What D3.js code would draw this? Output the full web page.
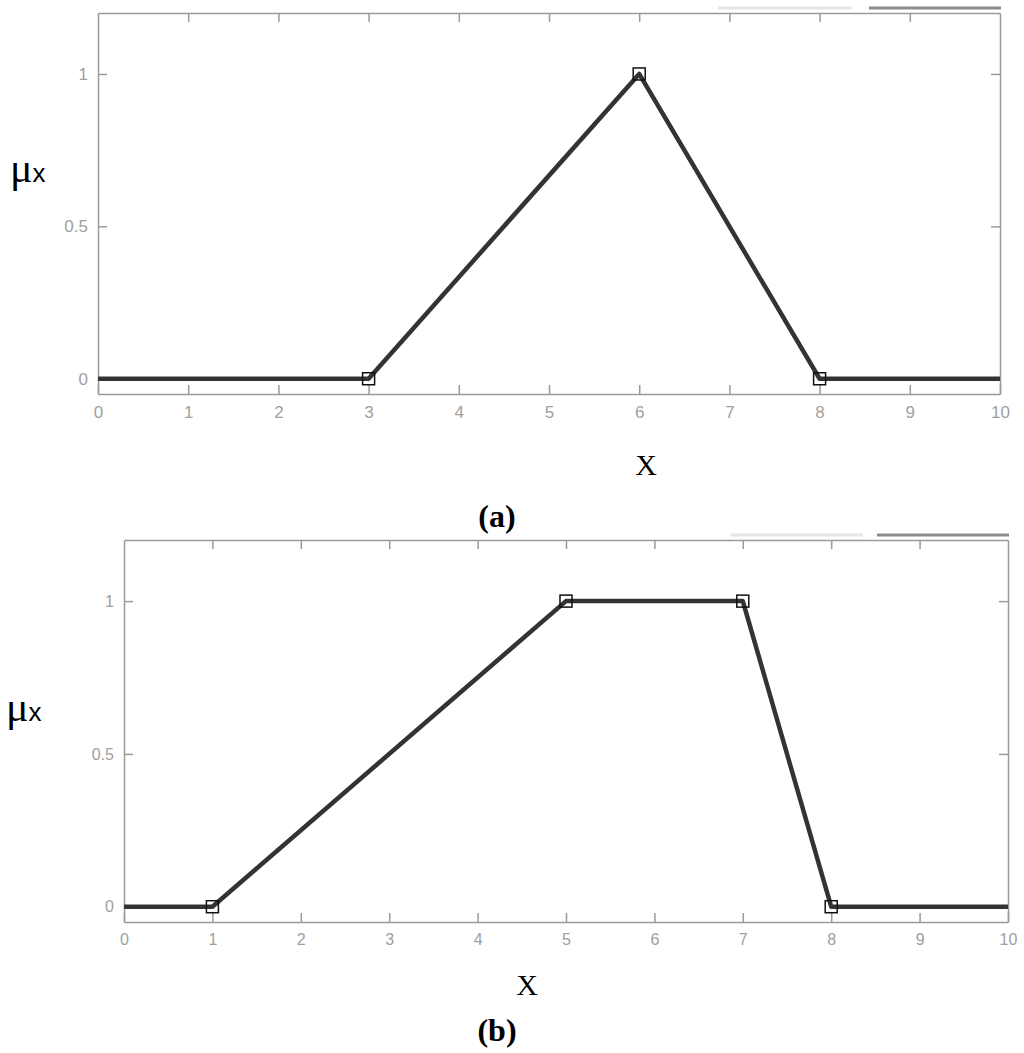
<!DOCTYPE html>
<html>
<head>
<meta charset="utf-8">
<script src="https://cdn.jsdelivr.net/npm/d3@7"></script>
<style>
  html, body { margin: 0; padding: 0; background: #fff; }
  svg { display: block; }
</style>
</head>
<body>
<svg id="chart" width="1024" height="1053"></svg>
<script>
// ---- data ----
const xTicks = [0, 1, 2, 3, 4, 5, 6, 7, 8, 9, 10];
const yTicks = [0, 0.5, 1];
const yTickLabels = ["0", "0.5", "1"];

const aX = [0, 3, 6, 8, 10];
const aY = [0, 0, 1, 0, 0];
const aMarkerIdx = [1, 2, 3];

const bX = [0, 1, 5, 7, 8, 10];
const bY = [0, 0, 1, 1, 0, 0];
const bMarkerIdx = [1, 2, 3, 4];

const panelNames = ["(a)", "(b)"];

// ---- layout ----
const svg = d3.select("#chart");
const axisColor = "#9a9a9a";

const panels = [
  { xs: aX, ys: aY, mk: aMarkerIdx, name: panelNames[0], fs: 17,
    left: 98, right: 1000, top: 13, bottom: 394,
    mu: [10, 182], xlab: [646, 475], cap: [497, 527],
    leg: [[718, 852, "#e6e6e6"], [869, 1001, "#8c8c8c"]], legY: 8 },
  { xs: bX, ys: bY, mk: bMarkerIdx, name: panelNames[1], fs: 16,
    left: 124, right: 1008, top: 540, bottom: 922,
    mu: [6, 721], xlab: [527, 995], cap: [497, 1041],
    leg: [[731, 863, "#e6e6e6"], [877, 1009, "#8c8c8c"]], legY: 535 }
];

panels.forEach(p => {
  const x = d3.scaleLinear().domain([0, 10]).range([p.left, p.right]);
  const y = d3.scaleLinear().domain([-0.05, 1.2]).range([p.bottom, p.top]);
  const g = svg.append("g");

  // legend remnants
  p.leg.forEach(l => {
    g.append("line").attr("x1", l[0]).attr("x2", l[1])
      .attr("y1", p.legY).attr("y2", p.legY)
      .attr("stroke", l[2]).attr("stroke-width", 3);
  });

  const styleAxis = sel => {
    sel.selectAll("path.domain").attr("stroke", axisColor).attr("stroke-width", 1.5);
    sel.selectAll(".tick line").attr("stroke", axisColor).attr("stroke-width", 1.5);
    sel.selectAll(".tick text").attr("fill", "#a0a0a0")
      .style("font-family", "Liberation Sans, Arial, sans-serif").style("font-size", p.fs + "px");
  };

  g.append("g").attr("transform", `translate(0,${p.bottom})`)
    .call(d3.axisBottom(x).tickValues(xTicks).tickSize(-9).tickSizeOuter(0).tickPadding(12).tickFormat(d3.format("d")))
    .call(styleAxis);
  g.append("g").attr("transform", `translate(0,${p.top})`)
    .call(d3.axisTop(x).tickValues(xTicks.slice(1, -1)).tickSize(-9).tickSizeOuter(0).tickFormat(""))
    .call(styleAxis);
  g.append("g").attr("transform", `translate(${p.left},0)`)
    .call(d3.axisLeft(y).tickValues(yTicks).tickSize(-9).tickSizeOuter(0).tickPadding(10)
      .tickFormat((d, i) => yTickLabels[i]))
    .call(styleAxis);
  g.append("g").attr("transform", `translate(${p.right},0)`)
    .call(d3.axisRight(y).tickValues(yTicks).tickSize(-9).tickSizeOuter(0).tickFormat(""))
    .call(styleAxis);

  const pts = p.xs.map((v, i) => [v, p.ys[i]]);
  g.append("path").datum(pts)
    .attr("d", d3.line().x(d => x(d[0])).y(d => y(d[1])))
    .attr("fill", "none").attr("stroke", "#333").attr("stroke-width", 4.5)
    .attr("stroke-linejoin", "round");

  g.selectAll("rect.mk").data(p.mk.map(i => pts[i])).enter().append("rect")
    .attr("class", "mk")
    .attr("x", d => x(d[0]) - 6).attr("y", d => y(d[1]) - 6)
    .attr("width", 12).attr("height", 12)
    .attr("fill", "none").attr("stroke", "#111").attr("stroke-width", 1.5);

  // y label mu_x
  const mu = g.append("text").attr("x", p.mu[0]).attr("y", p.mu[1]).attr("fill", "#000");
  mu.append("tspan").text("μ").style("font-family", "Liberation Serif, serif").style("font-size", "42px");
  mu.append("tspan").text("x").style("font-family", "Liberation Sans, sans-serif").style("font-size", "26px");

  // x label
  g.append("text").attr("x", p.xlab[0]).attr("y", p.xlab[1]).attr("text-anchor", "middle")
    .style("font-family", "Liberation Serif, serif").style("font-size", "30px").text("X");

  // caption
  g.append("text").attr("x", p.cap[0]).attr("y", p.cap[1]).attr("text-anchor", "middle")
    .style("font-family", "Liberation Serif, serif").style("font-size", "32px")
    .style("font-weight", "bold").text(p.name);
});
</script>
</body>
</html>
